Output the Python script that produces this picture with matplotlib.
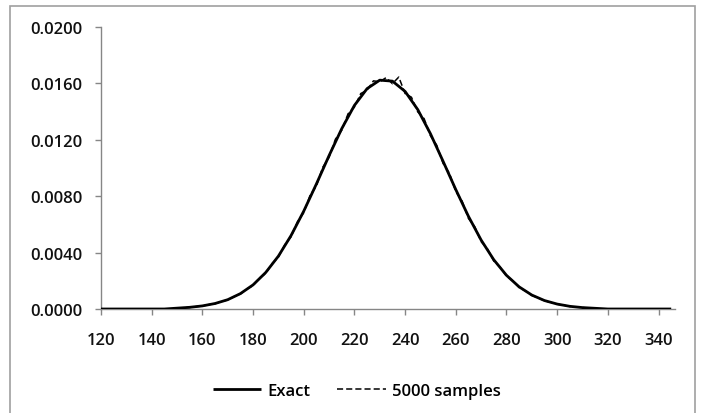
import numpy as np
import matplotlib.pyplot as plt
from matplotlib.patches import Rectangle

# ── Data ──────────────────────────────────────────────────────────────────────
X_EXACT = list(range(120, 350, 5))
Y_EXACT = [
    0.0, 0.0, 0.0, 0.0, 0.0, 0.0,                 # 120-145
    0.00006, 0.00012, 0.00022, 0.00039, 0.00066,  # 150-170
    0.00109, 0.00171, 0.00259, 0.00375, 0.00521,  # 175-195
    0.00694, 0.00887, 0.01088, 0.01279, 0.01444,  # 200-220
    0.01563, 0.01623, 0.01616, 0.01543, 0.01414,  # 225-245
    0.01243, 0.01047, 0.00847, 0.00657, 0.00489,  # 250-270
    0.00349, 0.00239, 0.00157, 0.00099, 0.00060,  # 275-295
    0.00035, 0.00019, 0.00010, 0.00005,           # 300-315
    0.0, 0.0, 0.0, 0.0, 0.0, 0.0,                 # 320-345
]

X_SAMPLES = [150 + 2.5 * i for i in range(67)]
Y_SAMPLES = [
    0.00005, 0.00009, 0.00011, 0.00017, 0.00021, 0.00031, 0.00037, 0.00053,
    0.00064, 0.00088, 0.00106, 0.00141, 0.00166, 0.00219, 0.00252, 0.00322,
    0.00368, 0.00455, 0.00512, 0.00618, 0.00683, 0.00806, 0.00872, 0.01005,
    0.01076, 0.01204, 0.01268, 0.01385, 0.01432, 0.01528, 0.01552, 0.01618,
    0.01612, 0.01641, 0.01598, 0.01645, 0.01528, 0.01502, 0.01398, 0.01350,
    0.01229, 0.01161, 0.01032, 0.00962, 0.00833, 0.00765, 0.00642, 0.00583,
    0.00478, 0.00426, 0.00340, 0.00297, 0.00233, 0.00200, 0.00152, 0.00128,
    0.00096, 0.00079, 0.00058, 0.00047, 0.00034, 0.00027, 0.00018, 0.00014,
    0.00010, 0.00007, 0.00005,
]

X_TICKS = list(range(120, 341, 20))
Y_TICKS = [0.0, 0.004, 0.008, 0.012, 0.016, 0.020]

# ── Figure ────────────────────────────────────────────────────────────────────
plt.rcParams["font.family"] = ["Open Sans", "DejaVu Sans"]
plt.rcParams["font.weight"] = "semibold"
fig = plt.figure(figsize=(7.04, 4.14), dpi=100)
fig.patches.append(Rectangle((10 / 704, -0.02), 685 / 704, 1.02 - 7 / 414,
                             transform=fig.transFigure, fill=False,
                             edgecolor="#a0a0a0", lw=1.2))

ax = fig.add_axes([101 / 704, 104 / 414, 574 / 704, 282 / 414])

ax.plot(X_EXACT, Y_EXACT, color="black", lw=2.0, solid_capstyle="butt",
        label="Exact", zorder=3)
ax.plot(X_SAMPLES, Y_SAMPLES, color="black", lw=1.1, dashes=(4, 2),
        label="5000 samples", zorder=4)

ax.set_xlim(120, 346.5)
ax.set_ylim(0, 0.02)
ax.set_xticks(X_TICKS)
ax.set_yticks(Y_TICKS)
ax.set_yticklabels([f"{v:.4f}" for v in Y_TICKS])

for s in ["top", "right"]:
    ax.spines[s].set_visible(False)
for s in ["left", "bottom"]:
    ax.spines[s].set_color("#868686")
    ax.spines[s].set_linewidth(1.0)

ax.tick_params(axis="both", direction="out", length=4.5, width=1.0,
               color="#868686", labelsize=12, labelcolor="#111111")
ax.tick_params(axis="y", pad=9)
ax.tick_params(axis="x", pad=12)

fig.legend(loc="center", bbox_to_anchor=(0.507, 0.054), ncol=2, frameon=False,
           fontsize=12, handlelength=2.9, handletextpad=0.4, columnspacing=1.6)

plt.savefig("out.png", dpi=100)
plt.close()
